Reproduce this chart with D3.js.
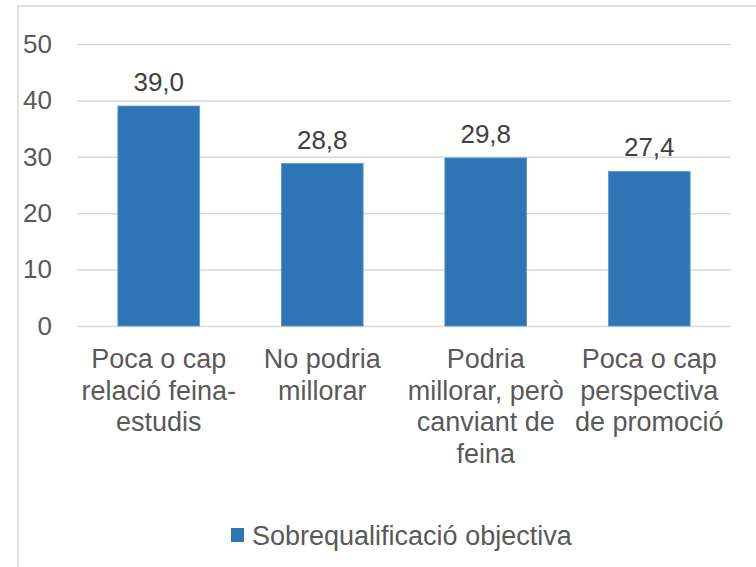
<!DOCTYPE html>
<html>
<head>
<meta charset="utf-8">
<script src="https://cdn.jsdelivr.net/npm/d3@7"></script>
<style>
  html, body { margin: 0; padding: 0; background: #fff; }
  text { font-family: Arial, "Liberation Sans", sans-serif; }
</style>
</head>
<body>
<div id="chart"></div>
<script>
const categories = [
  ["Poca o cap", "relació feina-", "estudis"],
  ["No podria", "millorar"],
  ["Podria", "millorar, però", "canviant de", "feina"],
  ["Poca o cap", "perspectiva", "de promoció"]
];
const values = [39.0, 28.8, 29.8, 27.4];
const yTicks = [0, 10, 20, 30, 40, 50];
const seriesName = "Sobrequalificació objectiva";

const width = 756, height = 567;
const plot = { left: 77, right: 731, top: 44, bottom: 326 };
const barColor = "#2e75b6";

const svg = d3.select("#chart").append("svg")
    .attr("width", width)
    .attr("height", height);

// chart frame
svg.append("rect")
    .attr("x", 18).attr("y", 6)
    .attr("width", 760).attr("height", 580)
    .attr("fill", "none")
    .attr("stroke", "#d9d9d9")
    .attr("stroke-width", 1.5);

const x = d3.scaleBand()
    .domain(d3.range(values.length))
    .range([plot.left, plot.right])
    .paddingInner(0.5)
    .paddingOuter(0.25);

const y = d3.scaleLinear()
    .domain([0, 50])
    .range([plot.bottom, plot.top]);

// gridlines + y labels
const yAxis = svg.append("g")
    .attr("transform", `translate(${plot.left},0)`)
    .call(d3.axisLeft(y).tickValues(yTicks).tickSize(-(plot.right - plot.left)).tickPadding(25));
yAxis.select(".domain").remove();
yAxis.selectAll(".tick line")
    .attr("stroke", "#d9d9d9")
    .attr("stroke-width", 1.5);
yAxis.selectAll(".tick text")
    .attr("fill", "#595959")
    .style("font-size", "26px")
    .style("font-family", "Arial, 'Liberation Sans', sans-serif");

// bars
svg.append("g")
  .selectAll("rect")
  .data(values)
  .join("rect")
    .attr("x", (d, i) => x(i))
    .attr("y", d => y(d))
    .attr("width", x.bandwidth())
    .attr("height", d => y(0) - y(d))
    .attr("fill", barColor)
    .attr("stroke", "#5b9bd5")
    .attr("stroke-width", 0.8);

// data labels
svg.append("g")
  .selectAll("text")
  .data(values)
  .join("text")
    .attr("x", (d, i) => x(i) + x.bandwidth() / 2)
    .attr("y", d => y(d) - 15)
    .attr("text-anchor", "middle")
    .attr("fill", "#404040")
    .style("font-size", "26px")
    .text(d => d3.format(".1f")(d).replace(".", ","));

// category labels
const cat = svg.append("g")
  .selectAll("text")
  .data(categories)
  .join("text")
    .attr("x", (d, i) => x(i) + x.bandwidth() / 2)
    .attr("y", plot.bottom + 42)
    .attr("text-anchor", "middle")
    .attr("fill", "#595959")
    .style("font-size", "27px");
cat.selectAll("tspan")
  .data(d => d)
  .join("tspan")
    .attr("x", function () { return d3.select(this.parentNode).attr("x"); })
    .attr("dy", (d, i) => i === 0 ? 0 : 31.5)
    .text(d => d);

// legend
const legend = svg.append("g").attr("transform", "translate(231,528)");
legend.append("rect")
    .attr("width", 13).attr("height", 14)
    .attr("fill", barColor);
legend.append("text")
    .attr("x", 21).attr("y", 17)
    .attr("fill", "#595959")
    .style("font-size", "27px")
    .text(seriesName);
</script>
</body>
</html>
